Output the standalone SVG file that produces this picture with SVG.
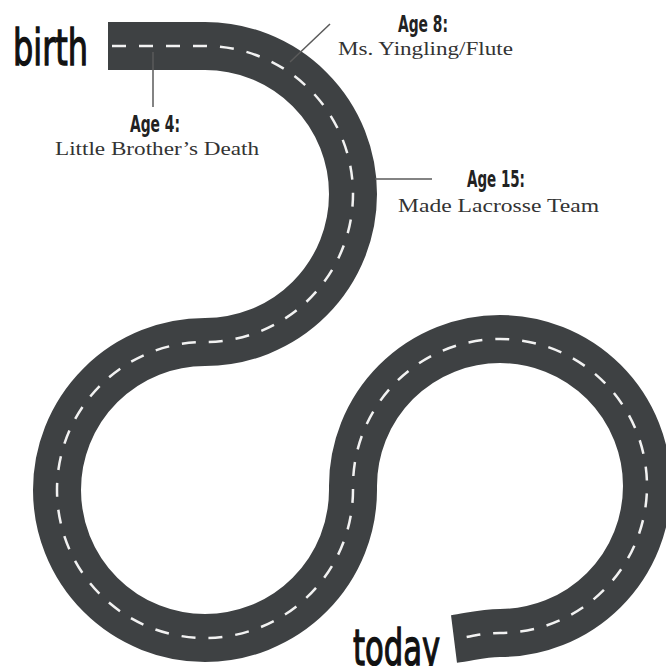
<svg xmlns="http://www.w3.org/2000/svg" width="666" height="666" viewBox="0 0 666 666">
  <defs>
    <style>
      .road { fill: none; stroke: #3e4143; stroke-width: 48; stroke-linecap: butt; stroke-linejoin: round; }
      .lane { fill: none; stroke: #f2f2f2; stroke-width: 2.5; stroke-dasharray: 14 13; stroke-dashoffset: -4; }
      .leader { stroke: #5a5a5a; stroke-width: 1.5; fill: none; }
      .big { font-family: "Liberation Sans Narrow", "DejaVu Sans Condensed", "Liberation Sans", sans-serif; font-size: 50px; fill: #111; stroke: #111; stroke-width: 1.3; }
      .age { font-family: "Liberation Sans Narrow", "DejaVu Sans Condensed", "Liberation Sans", sans-serif; font-size: 23px; font-weight: bold; fill: #222; }
      .desc { font-family: "Liberation Serif", serif; font-size: 19px; fill: #333; }
    </style>
  </defs>
  <rect width="666" height="666" fill="#ffffff"/>

  <g id="connectors">
    <g id="road">
      <path class="road" d="M108 46 H205 A148 148 0 0 1 205 342 A148 148 0 1 0 353 490 V486 A147 147 0 1 1 500 633 C482 633 470 637 454 639"/>
      <path class="lane" d="M108 46 H205 A148 148 0 0 1 205 342 A148 148 0 1 0 353 490 V486 A147 147 0 1 1 500 633 C482 633 470 637 454 639"/>
    </g>
    <line class="leader" x1="153" y1="52" x2="153" y2="107"/>
    <line class="leader" x1="290" y1="62" x2="330" y2="24"/>
    <line class="leader" x1="375" y1="179" x2="432" y2="179"/>
  </g>

  <g id="birth">
    <text class="big" x="13" y="65" textLength="75" lengthAdjust="spacingAndGlyphs">birth</text>
  </g>
  <g id="today">
    <text class="big" x="353" y="665" textLength="87" lengthAdjust="spacingAndGlyphs">today</text>
  </g>

  <g id="age4">
    <text class="age" x="130" y="132" textLength="50" lengthAdjust="spacingAndGlyphs">Age 4:</text>
    <text class="desc" x="55" y="155" textLength="204" lengthAdjust="spacingAndGlyphs">Little Brother’s Death</text>
  </g>
  <g id="age8">
    <text class="age" x="398" y="32" textLength="50" lengthAdjust="spacingAndGlyphs">Age 8:</text>
    <text class="desc" x="338" y="55" textLength="175" lengthAdjust="spacingAndGlyphs">Ms. Yingling/Flute</text>
  </g>
  <g id="age15">
    <text class="age" x="467" y="187" textLength="58" lengthAdjust="spacingAndGlyphs">Age 15:</text>
    <text class="desc" x="398" y="212" textLength="201" lengthAdjust="spacingAndGlyphs">Made Lacrosse Team</text>
  </g>
</svg>
